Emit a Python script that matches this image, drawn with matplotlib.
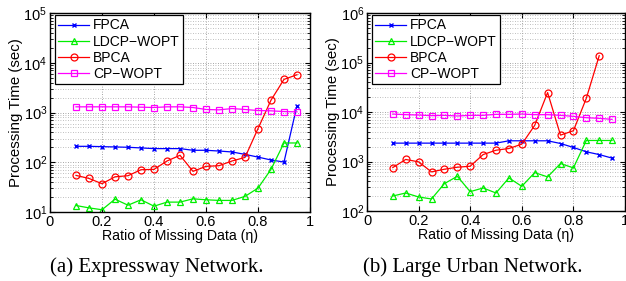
import numpy as np
import matplotlib
matplotlib.use('Agg')
import matplotlib.pyplot as plt
from matplotlib.ticker import LogLocator, NullFormatter, LogFormatterMathtext

plt.rcParams['font.family'] = ['Liberation Sans', 'DejaVu Sans']
plt.rcParams['mathtext.fontset'] = 'custom'
plt.rcParams['mathtext.rm'] = 'Liberation Sans'
plt.rcParams['mathtext.it'] = 'Liberation Sans:italic'

ratio = [0.1, 0.15, 0.2, 0.25, 0.3, 0.35, 0.4, 0.45, 0.5,
         0.55, 0.6, 0.65, 0.7, 0.75, 0.8, 0.85, 0.9, 0.95]
methods = ['FPCA', 'LDCP\u2212WOPT', 'BPCA', 'CP\u2212WOPT']

# (a) Expressway network
fpca_a = [209, 209, 206, 203, 200, 194, 188, 188, 188, 174, 174, 168, 161, 144, 127, 111, 101, 1380]
ldcp_a = [13.5, 12.1, 11.1, 18.1, 13.7, 17.6, 13.1, 15.8, 15.8, 18.4, 17.6, 17.1, 17.1, 20.6, 30.2, 72, 244, 244]
bpca_a = [54.4, 47.3, 37, 51, 53.6, 70.8, 71.9, 106, 138, 65.6, 82.7, 85.2, 106, 125, 475, 1770, 4630, 5740]
cpwopt_a = [1300, 1300, 1300, 1300, 1300, 1280, 1260, 1300, 1300, 1260, 1150, 1130, 1200, 1150, 1095, 1080, 1045, 1030]

# (b) Large urban network
fpca_b = [2350, 2350, 2350, 2350, 2350, 2350, 2350, 2350, 2350, 2620, 2620, 2620, 2620, 2310, 1920, 1570, 1380, 1170]
ldcp_b = [201, 231, 192, 175, 357, 503, 246, 292, 231, 466, 315, 597, 488, 910, 743, 2660, 2660, 2660]
bpca_b = [755, 1100, 984, 617, 698, 766, 803, 1380, 1690, 1830, 2240, 5370, 24700, 3410, 4180, 18900, 137000]
cpwopt_b = [9100, 8830, 8690, 8430, 8560, 8300, 8560, 8560, 8970, 8970, 9100, 8830, 8830, 8560, 8170, 7670, 7440, 7100]

styles = [dict(color='#0000ff', marker='x', markersize=3.5, mew=1.0),
          dict(color='#00ee00', marker='^', markersize=5, mfc='none', mew=0.9),
          dict(color='#ff0000', marker='o', markersize=5, mfc='none', mew=0.9),
          dict(color='#ff00ff', marker='s', markersize=4.5, mfc='none', mew=0.9)]


def draw_panel(ax, series, ylim, caption, cap_x):
    for vals, name, st in zip(series, methods, styles):
        ax.semilogy(ratio[:len(vals)], vals, '-', lw=0.9, label=name, **st)
    ax.set_xlim(0, 1)
    ax.set_ylim(*ylim)
    ax.set_xticks([0, 0.2, 0.4, 0.6, 0.8, 1])
    ax.set_xticklabels(['0', '0.2', '0.4', '0.6', '0.8', '1'])
    ax.yaxis.set_major_locator(LogLocator(base=10, numticks=10))
    ax.yaxis.set_major_formatter(LogFormatterMathtext())
    ax.yaxis.set_minor_locator(LogLocator(base=10, subs=np.arange(2, 10), numticks=10))
    ax.yaxis.set_minor_formatter(NullFormatter())
    ax.tick_params(which='both', direction='in', top=True, right=True, labelsize=10.5)
    ax.tick_params(which='major', length=3.5, pad=2)
    ax.tick_params(which='minor', length=2)
    ax.grid(True, which='major', ls=(0, (1, 2)), color='#888888', lw=0.6)
    ax.grid(True, which='minor', axis='y', ls=(0, (1, 2)), color='#aaaaaa', lw=0.6)
    for sp in ax.spines.values():
        sp.set_linewidth(1.0)
    ax.set_xlabel('Ratio of Missing Data (\u03b7)', fontsize=10.2, labelpad=0)
    ax.set_ylabel('Processing Time (sec)', fontsize=10.8, labelpad=0)
    leg = ax.legend(loc='upper left', bbox_to_anchor=(0.019, 0.99), borderaxespad=0,
                    fontsize=10, fancybox=False, edgecolor='black', framealpha=1,
                    handlelength=2.2, labelspacing=0.15, borderpad=0.25, handletextpad=0.3)
    leg.get_frame().set_linewidth(0.9)
    fig.text(cap_x, 1 - 267 / 281, caption, ha='center', va='center',
             fontsize=15, family='Liberation Serif')


fig = plt.figure(figsize=(6.26, 2.81), dpi=100)
ax1 = fig.add_axes([50 / 626, 1 - 212 / 281, 260 / 626, 199 / 281])
ax2 = fig.add_axes([367 / 626, 1 - 211 / 281, 258 / 626, 198 / 281])

draw_panel(ax1, [fpca_a, ldcp_a, bpca_a, cpwopt_a], (10, 1e5), '(a) Expressway Network.', 157 / 626)
draw_panel(ax2, [fpca_b, ldcp_b, bpca_b, cpwopt_b], (100, 1e6), '(b) Large Urban Network.', 473 / 626)

fig.savefig('out.png', dpi=100)
